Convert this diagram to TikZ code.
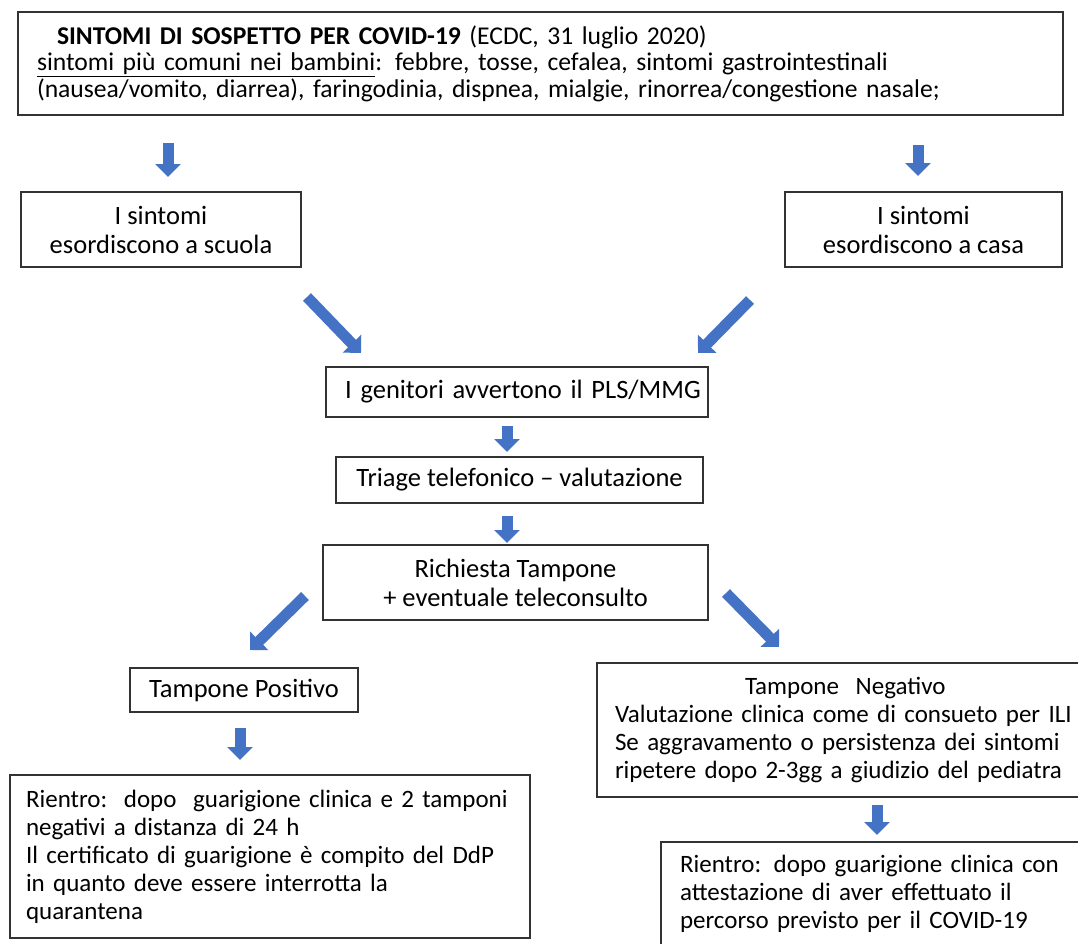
\documentclass[tikz,border=0pt]{standalone}
\usepackage{fontspec}
\setmainfont{Carlito}
\usetikzlibrary{arrows.meta}
\definecolor{arrblue}{HTML}{4472C4}
\tikzset{
  box/.style={draw=black!80, line width=1.2pt, rectangle, inner sep=0pt},
  big/.style={font=\fontsize{26.5}{29}\selectfont},
  mid/.style={font=\fontsize{25}{28}\selectfont},
  blockarr/.style={arrblue, line width=11pt, -{Triangle[width=25pt,length=13pt]}},
}
\begin{document}
\begin{tikzpicture}[x=1pt,y=-1pt]
\useasboundingbox (0,0) rectangle (1078,943);
\clip (0,0) rectangle (1078,943);
% riquadro sintomi
\node[box, font=\fontsize{25.6}{26.5}\selectfont, minimum width=1045pt, minimum height=103pt,
  text width=1007pt, align=left] (sint) at (540.5,63.5)
  {\hspace*{20pt}\textbf{SINTOMI DI SOSPETTO PER COVID-19} (ECDC, 31 luglio 2020)\\
   \underline{sintomi più comuni nei bambini}: febbre, tosse, cefalea, sintomi gastrointestinali\\
   (nausea/vomito, diarrea), faringodinia, dispnea, mialgie, rinorrea/congestione nasale;};

\node[box, big, minimum width=280pt, minimum height=75pt, align=center] (scuola) at (161,229.5) {I sintomi\\esordiscono a scuola};
\node[box, big, minimum width=277pt, minimum height=75pt, align=center] (casa) at (923.5,229.5) {I sintomi\\esordiscono a casa};

\node[box, big, minimum width=382pt, minimum height=50pt, text width=376pt, align=left] (genit) at (517,392)
  {\leftskip=16pt I genitori avvertono il PLS/MMG\par};
\node[box, big, minimum width=367pt, minimum height=46pt] (triage) at (519.5,480) {Triage telefonico – valutazione};
\node[box, big, minimum width=385pt, minimum height=75pt, align=center] (richiesta) at (515.5,582.5)
  {Richiesta Tampone\\+ eventuale teleconsulto};

% esito tampone
\node[box, big, minimum width=228pt, minimum height=44pt] (pos) at (244,690) {Tampone Positivo};
\node[box, mid, minimum width=520pt, minimum height=163pt, text width=500pt, align=left] (rientrop) at (270,856.5)
  {\leftskip=6pt Rientro:\ \ dopo\ \ guarigione clinica e 2 tamponi\\
   negativi a distanza di 24 h\\
   Il certificato di guarigione è compito del DdP\\
   in quanto deve essere interrotta la\\
   quarantena\par};
\node[box, mid, minimum width=494pt, minimum height=134pt, text width=476pt, align=left] (neg) at (844,730)
  {\leftskip=9pt\hspace*{130pt}Tampone\ \ Negativo\\
   Valutazione clinica come di consueto per ILI\\
   Se aggravamento o persistenza dei sintomi\\
   ripetere dopo 2-3gg a giudizio del pediatra\par};
\node[box, mid, minimum width=430pt, minimum height=104pt, text width=410pt, align=left] (rientron) at (876,894)
  {\leftskip=9pt Rientro: dopo guarigione clinica con\\
   attestazione di aver effettuato il\\
   percorso previsto per il COVID-19\par};

% frecce
\foreach \xa/\ya/\xb/\yb in {168/143/168/177, 918/145/918/176, 307/297/361/353, 750/300/698/353,
  507/426/507/452, 507/516/507/543, 305/596/250/650, 726/593/779/647, 240/728/240/760, 877/805/877/835}
  \draw[blockarr] (\xa,\ya) -- (\xb,\yb);
\end{tikzpicture}
\end{document}
